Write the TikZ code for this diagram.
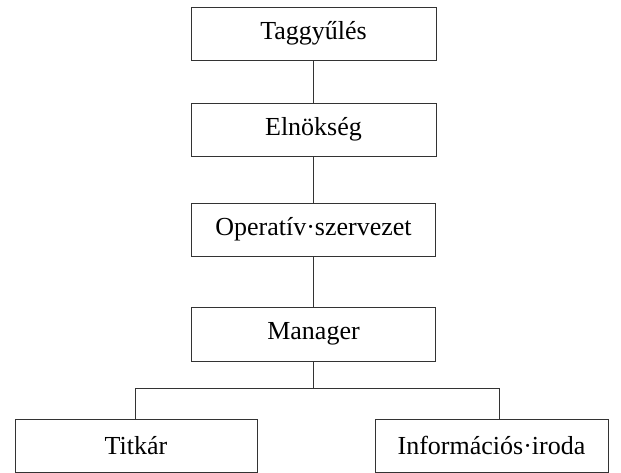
\documentclass[tikz,border=0pt]{standalone}
\usepackage{fontspec}
\setmainfont{Liberation Serif}
\begin{document}
\begin{tikzpicture}[x=1pt,y=1pt,
  unit/.style={draw=black!80,line width=0.9pt,minimum height=53pt,inner sep=0pt,font=\fontsize{26}{30}\selectfont},
  link/.style={draw=black!80,line width=0.9pt}]
\useasboundingbox (0,0) rectangle (621,473);
\node[unit,minimum width=245pt] (tag) at (313.5,439.5){Taggyűlés};
\node[unit,minimum width=245pt] (eln) at (313.5,343.5){Elnökség};
\node[unit,minimum width=244pt] (op) at (313.5,243.5){Operatív·szervezet};
\node[unit,minimum width=244pt,minimum height=54pt] (man) at (313.5,139){Manager};
\node[unit,minimum width=242pt] (tit) at (136,27.5){Titkár};
\node[unit,minimum width=233pt] (inf) at (491.5,27.5){Információs·iroda};
\coordinate (brL) at (135,85); \coordinate (brR) at (499,85);
\draw[link] (tag)--(eln); \draw[link] (eln)--(op); \draw[link] (op)--(man);
\draw[link] (man.south)--(man.south |- brL);
\draw[link] (brL |- tit.north)--(brL)--(brR)--(brR |- inf.north);
\end{tikzpicture}
\end{document}
